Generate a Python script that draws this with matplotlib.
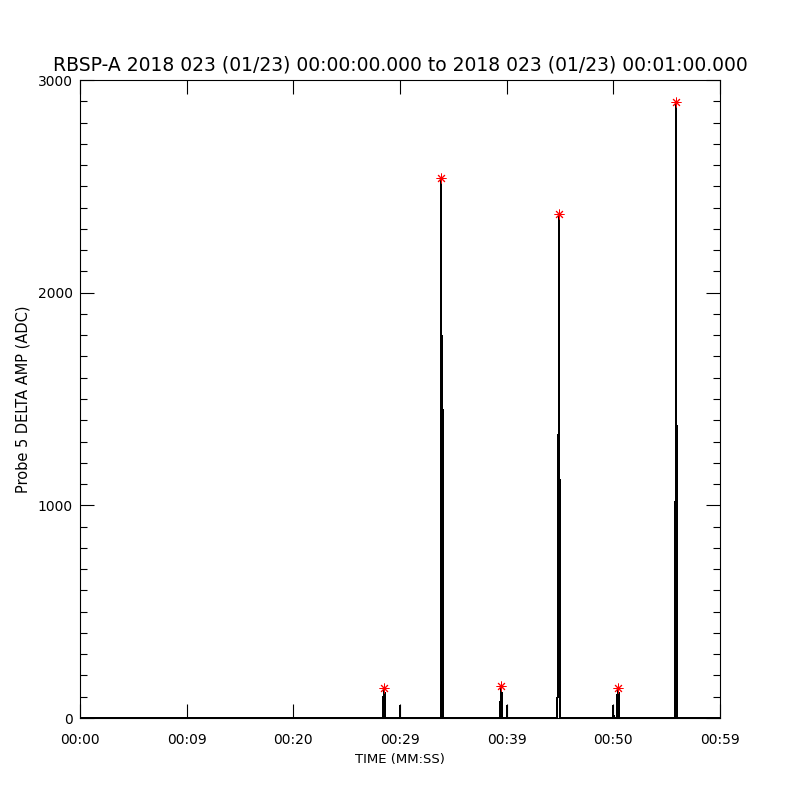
import matplotlib
matplotlib.use('Agg')
import matplotlib.pyplot as plt
from matplotlib.ticker import MultipleLocator

# time (s) and probe amplitude (ADC) samples, baseline is 0 elsewhere
time_s = [0.0,
          28.43, 28.45, 28.53, 28.59, 28.62,
          29.98, 30.00, 30.02,
          33.84, 33.88, 33.89, 33.98, 34.06,
          39.40, 39.42, 39.50, 39.56, 39.59,
          40.04, 40.06, 40.08,
          44.75, 44.77, 44.84, 44.92, 44.93, 44.98, 45.03,
          49.98, 50.00, 50.02,
          50.37, 50.39, 50.47, 50.53, 50.56,
          55.80, 55.88, 55.885, 55.91, 55.97,
          60.0]
amp_adc = [0,
           0, 100, 140, 66, 0,
           0, 56, 0,
           0, 2540, 1800, 1540, 0,
           0, 77, 150, 30, 0,
           0, 56, 0,
           0, 122, 1000, 2370, 1315, 900, 0,
           0, 56, 0,
           0, 108, 140, 66, 0,
           0, 2895, 2117, 1722, 0,
           0]

# flagged peaks
peak_t = [28.53, 33.88, 39.50, 44.92, 50.47, 55.88]
peak_amp = [140, 2540, 150, 2370, 140, 2895]

xtick_pos = [0, 10, 20, 30, 40, 50, 60]
xtick_labels = ['00:00', '00:09', '00:20', '00:29', '00:39', '00:50', '00:59']

title = 'RBSP-A 2018 023 (01/23) 00:00:00.000 to 2018 023 (01/23) 00:01:00.000'


def main():
    fig = plt.figure(figsize=(8, 8), dpi=100)
    ax = fig.add_axes([0.1, 0.1025, 0.8, 0.7975])

    ax.plot(time_s, amp_adc, color='black', linewidth=0.72, antialiased=False)
    ax.plot(peak_t, peak_amp, linestyle='none', marker=(8, 2, 0),
            markersize=7, markeredgecolor='red', markeredgewidth=0.7)

    ax.set_xlim(0, 60)
    ax.set_ylim(0, 3000)
    ax.set_xticks(xtick_pos)
    ax.set_xticklabels(xtick_labels)
    ax.yaxis.set_major_locator(MultipleLocator(1000))
    ax.yaxis.set_minor_locator(MultipleLocator(100))

    ax.tick_params(axis='both', which='both', direction='in',
                   top=True, right=True, color='black')
    ax.tick_params(axis='both', which='major', length=10, width=0.8)
    ax.tick_params(axis='y', which='minor', length=5, width=0.8)
    ax.tick_params(axis='x', which='major', labelsize=10, pad=11)
    ax.tick_params(axis='y', which='major', labelsize=10, pad=5)

    for sp in ax.spines.values():
        sp.set_linewidth(0.8)

    ax.set_title(title, fontsize=13.5, pad=7)
    ax.set_xlabel('TIME (MM:SS)', fontsize=9.5, labelpad=4)
    ax.set_ylabel('Probe 5 DELTA AMP (ADC)', fontsize=10.5, labelpad=5)

    fig.savefig('out.png', dpi=100)


if __name__ == '__main__':
    main()
